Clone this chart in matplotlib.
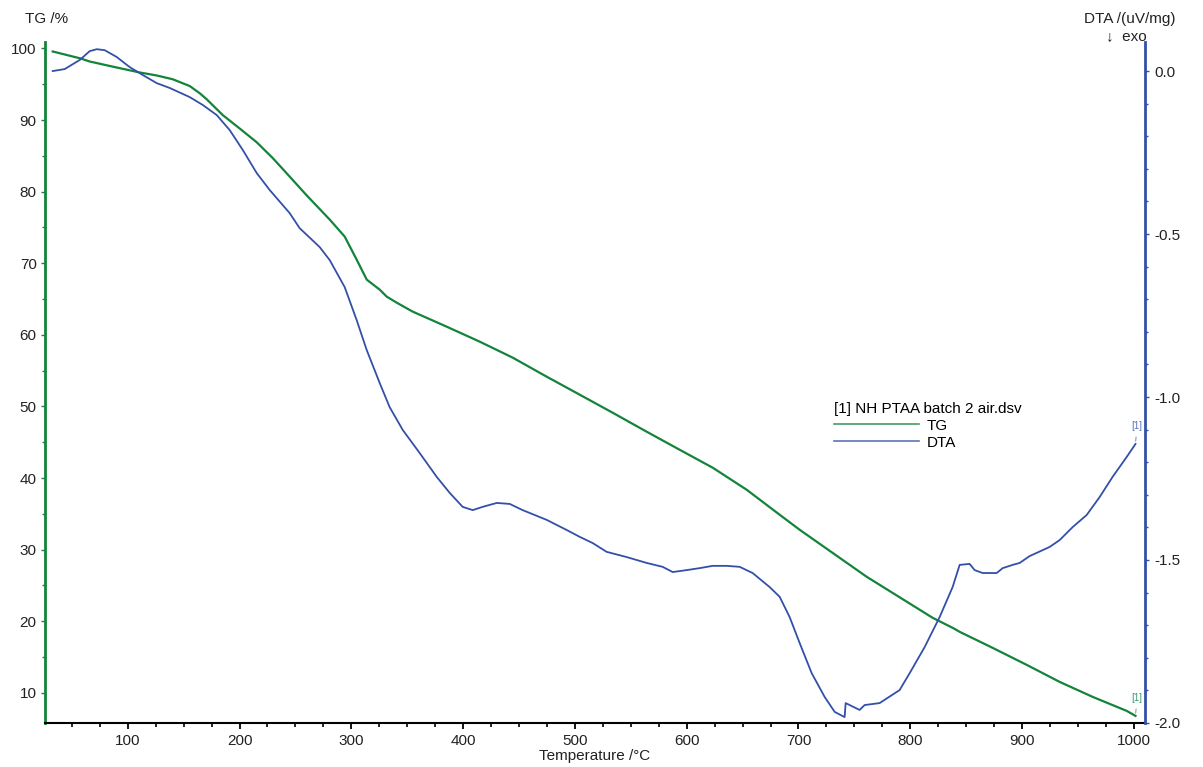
import matplotlib
matplotlib.use("Agg")
import matplotlib.pyplot as plt
import numpy as np
from matplotlib.ticker import MultipleLocator, FormatStrFormatter

plt.rcParams['font.family'] = ['Liberation Sans', 'DejaVu Sans']
plt.rcParams['axes.unicode_minus'] = False

# TG curve (temperature degC, mass %)
tg_temp = [32.9, 58.0, 66.0, 90.2, 110.7, 125.9, 140.3, 155.5, 164.4, 170.7, 185.0, 200.2,
           215.4, 229.7, 242.0, 260.0, 280.7, 294.1, 304.8, 313.8, 325.4, 331.7, 340.6,
           354.9, 385.3, 414.8, 444.4, 474.8, 504.3, 533.8, 564.2, 593.7, 623.3, 653.7,
           683.2, 701.1, 761.0, 820.0, 837.9, 844.2, 873.7, 904.1, 933.6, 963.1, 993.6, 1001.5]
tg_mass = [99.58, 98.60, 98.18, 97.34, 96.65, 96.23, 95.70, 94.75, 93.75, 92.90, 90.70, 88.82,
           86.90, 84.70, 82.60, 79.50, 76.10, 73.73, 70.51, 67.72, 66.32, 65.34, 64.50,
           63.25, 61.15, 59.06, 56.82, 54.16, 51.65, 49.13, 46.48, 43.96, 41.45, 38.37,
           34.88, 32.78, 26.22, 20.49, 19.09, 18.53, 16.29, 13.92, 11.54, 9.45, 7.49, 6.79]

# DTA curve (temperature degC, uV/mg)
dta_temp = [32.9, 43.6, 57.1, 66.0, 72.3, 79.4, 90.2, 101.8, 113.4, 125.9, 137.6, 155.5,
            167.1, 179.6, 191.2, 202.9, 215.4, 227.0, 244.9, 253.8, 271.7, 280.7, 294.1,
            304.8, 313.8, 325.4, 334.3, 346.0, 361.2, 376.4, 388.0, 399.6, 408.6, 417.5,
            430.1, 441.7, 453.3, 474.8, 492.7, 504.3, 515.9, 528.4, 546.3, 564.2, 578.5,
            587.5, 600.0, 611.6, 623.3, 635.8, 647.4, 659.0, 674.2, 683.2, 692.1, 701.1,
            711.8, 723.4, 732.4, 741.3, 742.2, 754.7, 759.2, 772.6, 790.5, 799.5, 812.9,
            826.3, 837.9, 844.2, 853.1, 857.6, 864.8, 877.3, 882.7, 891.6, 897.9, 906.8,
            924.7, 933.6, 945.3, 957.8, 969.4, 981.0, 993.6, 1001.5]
dta_val = [0.0, 0.006, 0.034, 0.061, 0.067, 0.064, 0.043, 0.012, -0.012, -0.037, -0.052,
           -0.080, -0.104, -0.135, -0.181, -0.242, -0.313, -0.365, -0.436, -0.482, -0.540,
           -0.580, -0.663, -0.764, -0.856, -0.957, -1.031, -1.101, -1.172, -1.245, -1.294,
           -1.337, -1.347, -1.337, -1.325, -1.328, -1.347, -1.377, -1.408, -1.429, -1.448,
           -1.475, -1.491, -1.509, -1.521, -1.537, -1.531, -1.525, -1.518, -1.518, -1.521,
           -1.540, -1.583, -1.613, -1.675, -1.755, -1.847, -1.920, -1.966, -1.982, -1.939,
           -1.960, -1.945, -1.939, -1.899, -1.847, -1.767, -1.675, -1.583, -1.515, -1.512,
           -1.531, -1.540, -1.540, -1.525, -1.515, -1.509, -1.488, -1.460, -1.439, -1.399,
           -1.362, -1.307, -1.245, -1.184, -1.144]

green = '#13843a'
blue = '#3350a8'
txt = '#222222'

fig = plt.figure(figsize=(12.03, 7.67), dpi=100)
ax = fig.add_axes([0.0374, 0.0574, 0.9144, 0.8878])
ax2 = ax.twinx()

l1, = ax.plot(tg_temp, tg_mass, color=green, lw=1.6, label='TG')
l2, = ax2.plot(dta_temp, dta_val, color=blue, lw=1.3, label='DTA')

ax.set_xlim(26, 1010)
ax.set_ylim(5.8, 100.9)
ax2.set_ylim(-2.0, 0.089)

ax.xaxis.set_major_locator(MultipleLocator(100))
ax.xaxis.set_minor_locator(MultipleLocator(25))
ax.yaxis.set_major_locator(MultipleLocator(10))
ax.yaxis.set_minor_locator(MultipleLocator(5))
ax2.yaxis.set_major_locator(MultipleLocator(0.5))
ax2.yaxis.set_minor_locator(MultipleLocator(0.1))
ax2.yaxis.set_major_formatter(FormatStrFormatter('%.1f'))

for a in (ax, ax2):
    a.spines['top'].set_visible(False)
ax2.spines['bottom'].set_visible(False)
ax2.spines['left'].set_visible(False)
ax.spines['right'].set_visible(False)
ax.spines['left'].set_color(green)
ax.spines['left'].set_linewidth(2)
ax.spines['bottom'].set_color('black')
ax.spines['bottom'].set_linewidth(1.5)
ax2.spines['right'].set_color(blue)
ax2.spines['right'].set_linewidth(2)

ax.tick_params(axis='x', which='major', length=4, width=1.3, color='black',
               labelsize=11, labelcolor=txt, pad=4)
ax.tick_params(axis='x', which='minor', length=3, width=1.2, color='black')
ax.tick_params(axis='y', which='major', length=3, width=1, color=green,
               labelsize=11, labelcolor=txt, pad=3)
ax.tick_params(axis='y', which='minor', length=2, width=1, color=green)
ax2.tick_params(axis='y', which='major', length=3, width=1, color=blue,
                labelsize=11, labelcolor=txt, pad=4)
ax2.tick_params(axis='y', which='minor', length=2, width=1, color=blue)

ax.set_xlabel('Temperature /°C', fontsize=11, color=txt, labelpad=1)
fig.text(0.021, 0.975, 'TG /%', fontsize=11, color=txt, va='center', ha='left')
fig.text(0.977, 0.975, 'DTA /(uV/mg)', fontsize=11, color=txt, va='center', ha='right')
fig.text(0.919, 0.953, '↓  exo', fontsize=11, color=txt, va='center', ha='left')

# end markers
ax.annotate('[1]', xy=(tg_temp[-1], tg_mass[-1]), xytext=(1, 9), textcoords='offset points',
            fontsize=7, color='#3a9a70', ha='center', va='bottom',
            arrowprops=dict(arrowstyle='-', color='#3a9a70', lw=0.6))
ax2.annotate('[1]', xy=(dta_temp[-1], dta_val[-1]), xytext=(1, 9), textcoords='offset points',
             fontsize=7, color='#5a70b8', ha='center', va='bottom',
             arrowprops=dict(arrowstyle='-', color='#5a70b8', lw=0.6))

leg = ax.legend(handles=[l1, l2], title='[1] NH PTAA batch 2 air.dsv', loc='upper left',
                bbox_to_anchor=(0.717, 0.472), frameon=False, fontsize=11,
                title_fontsize=11, handlelength=5.6, handletextpad=0.5,
                labelspacing=0.2, borderpad=0.0, borderaxespad=0.0)
leg._legend_box.align = 'left'
for h in leg.legend_handles:
    h.set_linewidth(1.2)
    h.set_alpha(0.8)

fig.savefig('out.png', dpi=100)
